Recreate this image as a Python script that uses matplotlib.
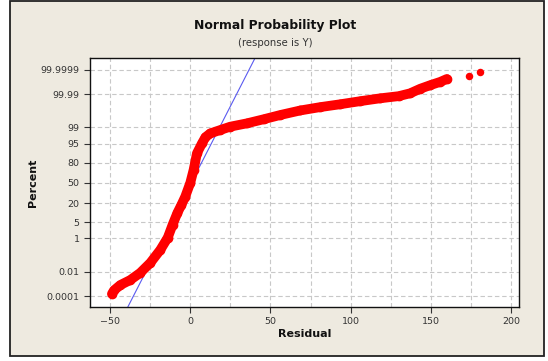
import numpy as np
import matplotlib
matplotlib.use("Agg")
import matplotlib.pyplot as plt
from matplotlib.patches import Rectangle
from statistics import NormalDist

# ---- data ----
residual = [-48.8, -47.5, -43.6, -37.4, -31.2, -24.9, -18.7, -14.0, -11.0, -8.0,
            -5.5, -3.1, 0.0, 2.1, 4.2, 7.3, 9.5, 12.5, 18.7, 24.9,
            35.3, 45.7, 56.1, 68.6, 81.0, 93.5, 106.0, 118.4, 130.0, 137.1,
            143.4, 149.6, 155.9, 160.0]
percent = [0.00017, 0.00034, 0.00094, 0.00236, 0.0082, 0.0404, 0.248, 1.1, 4.0, 10.5,
           18.0, 28.4, 50.0, 70.9, 89.4, 95.15, 97.26, 98.12, 98.68, 99.086,
           99.379, 99.621, 99.781, 99.8817, 99.9264, 99.9517, 99.9698, 99.9807, 99.9864, 99.9915,
           99.9961, 99.99793, 99.99888, 99.99935]
outlier_residual = [174.0, 180.8]
outlier_percent = [99.999644, 99.999826]

fit_mean = 0.6
fit_sd = 7.6

x_ticks = [-50, 0, 50, 100, 150, 200]
y_ticks = [0.0001, 0.01, 1, 5, 20, 50, 80, 95, 99, 99.99, 99.9999]
y_tick_labels = ["0.0001", "0.01", "1", "5", "20", "50", "80", "95", "99", "99.99", "99.9999"]

# ---- normal probability scale ----
_nd = NormalDist()
_inv = np.vectorize(_nd.inv_cdf, otypes=[float])
_cdf = np.vectorize(_nd.cdf, otypes=[float])

def fwd(p):
    p = np.clip(np.asarray(p, dtype=float) / 100.0, 1e-12, 1 - 1e-12)
    return _inv(p)

def inv(z):
    return _cdf(np.asarray(z, dtype=float)) * 100.0

fig = plt.figure(figsize=(5.48, 3.61), dpi=100)
fig.patch.set_facecolor("white")
bg = Rectangle((10 / 548, 1 - 356 / 361), 534 / 548, 355 / 361, transform=fig.transFigure,
               facecolor="#EEEAE0", edgecolor="#222222", linewidth=1.3, zorder=-10)
fig.patches.append(bg)

ax = fig.add_axes([90 / 548, 1 - 307 / 361, 429 / 548, 249 / 361])
ax.set_facecolor("white")
ax.set_yscale("function", functions=(fwd, inv))
ax.set_xlim(-62.5, 205)
ax.set_ylim(inv(-5.2), inv(5.24))

ax.set_xticks(x_ticks)
ax.set_xticks(np.arange(-50, 201, 25), minor=True)
ax.set_yticks(y_ticks)
ax.set_yticklabels(y_tick_labels)
ax.yaxis.set_minor_locator(matplotlib.ticker.NullLocator())

ax.grid(True, which="both", axis="x", color="#C8C8C8", linestyle=(0, (4, 2.5)), linewidth=0.8)
ax.grid(True, which="major", axis="y", color="#C8C8C8", linestyle=(0, (4, 2.5)), linewidth=0.8)
ax.tick_params(axis="x", which="minor", length=0)
ax.tick_params(axis="both", which="major", direction="out", length=4, width=0.8,
               colors="#333333", labelsize=6.8, labelcolor="#333333")
for s in ax.spines.values():
    s.set_color("#111111")
    s.set_linewidth(1.0)
ax.set_axisbelow(True)

# fitted line
zline = np.array([-5.6, 5.6])
ax.plot(fit_mean + fit_sd * zline, inv(zline), color="#5A5AF0", linewidth=0.8, zorder=2)

# data
ax.plot(residual, percent, color="#FF0000", linewidth=7.0, solid_capstyle="round",
        solid_joinstyle="round", zorder=3)
ax.plot(residual, percent, "o", color="#FF0000", markersize=6, zorder=3)
ax.plot(outlier_residual, outlier_percent, "o", color="#FF0000", markersize=5.4,
        markeredgewidth=0, zorder=3)

fig.text(275 / 548, 1 - 26 / 361, "Normal Probability Plot", ha="center", va="center",
         fontsize=8.9, fontweight="bold", color="#111111")
fig.text(275 / 548, 1 - 43 / 361, "(response is Y)", ha="center", va="center",
         fontsize=7.3, color="#333333")
fig.text(33 / 548, 1 - 183 / 361, "Percent", ha="center", va="center", rotation=90,
         fontsize=8, fontweight="bold", color="#111111")
fig.text(305 / 548, 1 - 334 / 361, "Residual", ha="center", va="center",
         fontsize=8, fontweight="bold", color="#111111")

fig.savefig("out.png", dpi=100, facecolor=fig.get_facecolor())
